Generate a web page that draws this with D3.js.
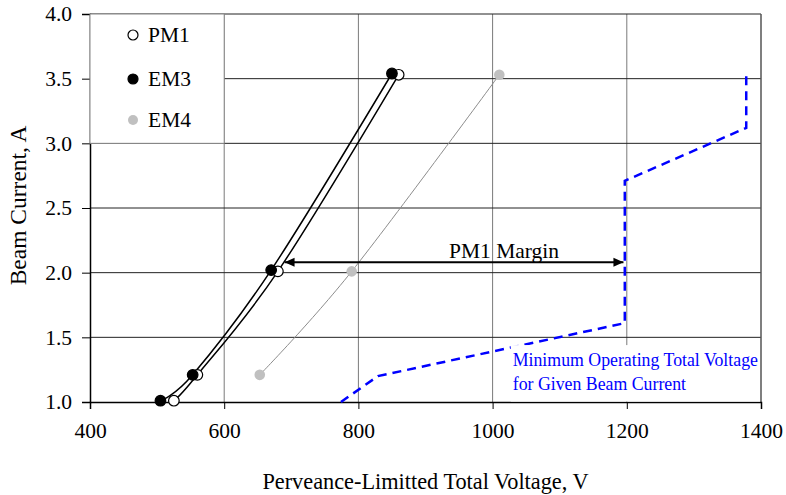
<!DOCTYPE html>
<html>
<head>
<meta charset="utf-8">
<script src="https://cdn.jsdelivr.net/npm/d3@7"></script>
<style>
  body { margin: 0; background: #fff; }
  svg text { font-family: 'Liberation Serif', 'Times New Roman', serif; }
</style>
</head>
<body>
<div id="chart"></div>
<script>
// Data
const seriesNames = ['PM1', 'EM3', 'EM4']
const pm1Voltage = [525, 560, 680, 860]
const pm1Current = [1.01, 1.21, 2.01, 3.53]
const em3Voltage = [505, 553, 670, 850]
const em3Current = [1.01, 1.21, 2.02, 3.54]
const em4Voltage = [653, 790, 1010]
const em4Current = [1.21, 2.01, 3.53]

// minimum operating total voltage vs beam current
const minVoltage = [774, 829, 1197, 1197, 1378, 1378]
const minCurrent = [1.0, 1.2, 1.61, 2.71, 3.12, 3.54]

// margin arrow (PM1 at 2 A up to the minimum voltage)
const marginFrom = 690
const marginTo = 1195
const marginCurrent = 2.08

const xTicks = [400, 600, 800, 1000, 1200, 1400]
const yTicks = [1.0, 1.5, 2.0, 2.5, 3.0, 3.5, 4.0]

const zip = (xs, ys) => xs.map((v, i) => ({ v, i: ys[i] }))

function draw() {
  let dimensions = {
    width: 786,
    height: 495,
    margins: { top: 14, right: 25, bottom: 93, left: 90 }
  }
  dimensions.ctrWidth = dimensions.width - dimensions.margins.left - dimensions.margins.right
  dimensions.ctrHeight = dimensions.height - dimensions.margins.top - dimensions.margins.bottom

  const svg = d3.select('#chart')
    .append('svg')
    .attr('width', dimensions.width)
    .attr('height', dimensions.height)

  const ctr = svg.append('g')
    .attr('transform', `translate(${dimensions.margins.left},${dimensions.margins.top})`)

  // Scales
  const xScale = d3.scaleLinear()
    .domain([400, 1400])
    .range([0, dimensions.ctrWidth])

  const yScale = d3.scaleLinear()
    .domain([1, 4])
    .range([dimensions.ctrHeight, 0])

  // Grid
  ctr.selectAll('.vgrid')
    .data(xTicks.slice(1, -1))
    .join('line')
    .attr('x1', d => xScale(d)).attr('x2', d => xScale(d))
    .attr('y1', 0).attr('y2', dimensions.ctrHeight)
    .attr('stroke', '#7a7a7a')
    .attr('stroke-width', 1)

  ctr.selectAll('.hgrid')
    .data(yTicks.slice(1))
    .join('line')
    .attr('x1', 0).attr('x2', dimensions.ctrWidth)
    .attr('y1', d => yScale(d)).attr('y2', d => yScale(d))
    .attr('stroke', '#222')
    .attr('stroke-width', 1)

  // right border
  ctr.append('line')
    .attr('x1', dimensions.ctrWidth).attr('x2', dimensions.ctrWidth)
    .attr('y1', 0).attr('y2', dimensions.ctrHeight)
    .attr('stroke', '#555')
    .attr('stroke-width', 1.5)

  // Axes
  const xAxis = d3.axisBottom(xScale)
    .tickValues(xTicks)
    .tickSize(7)
    .tickPadding(14)
    .tickFormat(d3.format('d'))

  const xAxisGroup = ctr.append('g')
    .attr('transform', `translate(0,${dimensions.ctrHeight})`)
    .call(xAxis)

  const yAxis = d3.axisLeft(yScale)
    .tickValues(yTicks)
    .tickSize(8)
    .tickPadding(10)
    .tickFormat(d3.format('.1f'))

  const yAxisGroup = ctr.append('g').call(yAxis)

  ;[xAxisGroup, yAxisGroup].forEach(g => {
    g.select('.domain').attr('stroke', '#000').attr('stroke-width', 1.5)
    g.selectAll('.tick line').attr('stroke', '#000').attr('stroke-width', 1)
    g.selectAll('.tick text')
      .attr('fill', '#000')
      .style('font-size', '21.5px')
      .style('font-family', "'Liberation Serif', 'Times New Roman', serif")
  })

  // Legend box
  const legend = ctr.append('g')
  legend.append('rect')
    .attr('x', xScale(400))
    .attr('y', yScale(4))
    .attr('width', xScale(600) - xScale(400))
    .attr('height', yScale(3) - yScale(4))
    .attr('fill', '#fff')
    .attr('stroke', '#888')
    .attr('stroke-width', 1)

  // Lines
  const lineGenerator = d3.line()
    .x(d => xScale(d.v))
    .y(d => yScale(d.i))
    .curve(d3.curveCardinal.tension(0))

  const series = [
    { name: 'EM4', data: zip(em4Voltage, em4Current), stroke: '#8c8c8c', width: 1, fill: '#c0c0c0', ring: 'none' },
    { name: 'PM1', data: zip(pm1Voltage, pm1Current), stroke: '#000', width: 1.5, fill: '#fff', ring: '#000' },
    { name: 'EM3', data: zip(em3Voltage, em3Current), stroke: '#000', width: 1.5, fill: '#000', ring: '#000' }
  ]

  series.forEach(s => {
    ctr.append('path')
      .datum(s.data)
      .attr('d', lineGenerator)
      .attr('fill', 'none')
      .attr('stroke', s.stroke)
      .attr('stroke-width', s.width)
  })

  series.forEach(s => {
    ctr.selectAll(null)
      .data(s.data)
      .join('circle')
      .attr('r', 5.3)
      .attr('cx', d => xScale(d.v))
      .attr('cy', d => yScale(d.i))
      .attr('fill', s.fill)
      .attr('stroke', s.ring)
      .attr('stroke-width', 1.2)
  })

  // Legend entries
  const legendStyle = {
    PM1: { fill: '#fff', ring: '#000' },
    EM3: { fill: '#000', ring: '#000' },
    EM4: { fill: '#c0c0c0', ring: 'none' }
  }
  const legendY = [21, 65, 106]
  seriesNames.forEach((name, i) => {
    legend.append('circle')
      .attr('cx', 43)
      .attr('cy', legendY[i])
      .attr('r', 5)
      .attr('fill', legendStyle[name].fill)
      .attr('stroke', legendStyle[name].ring)
      .attr('stroke-width', 1.2)
    legend.append('text')
      .attr('x', 58)
      .attr('y', legendY[i] + 7)
      .attr('font-size', '21.5px')
      .attr('fill', '#000')
      .text(name)
  })

  // Minimum operating voltage curve
  const minLine = d3.line()
    .x(d => xScale(d.v))
    .y(d => yScale(d.i))

  ctr.append('path')
    .datum(zip(minVoltage, minCurrent))
    .attr('d', minLine)
    .attr('fill', 'none')
    .attr('stroke', '#0000ff')
    .attr('stroke-width', 2.5)
    .attr('stroke-dasharray', '9,6')

  // Label box for the minimum voltage curve
  ctr.append('rect')
    .attr('x', xScale(1030) - 2)
    .attr('y', yScale(1.44))
    .attr('width', dimensions.ctrWidth - xScale(1030) + 1)
    .attr('height', yScale(1) - yScale(1.44) - 0.5)
    .attr('fill', '#fff')

  const blue = ctr.append('text')
    .attr('fill', '#0000ff')
    .attr('font-size', '17.8px')
  blue.append('tspan')
    .attr('x', xScale(1030))
    .attr('y', yScale(1.28))
    .text('Minimum Operating Total Voltage')
  blue.append('tspan')
    .attr('x', xScale(1030))
    .attr('y', yScale(1.095))
    .text('for Given Beam Current')

  // Margin arrow
  svg.append('defs').append('marker')
    .attr('id', 'arrowhead')
    .attr('viewBox', '0 -5 10 10')
    .attr('refX', 10)
    .attr('orient', 'auto-start-reverse')
    .attr('markerUnits', 'userSpaceOnUse')
    .attr('markerWidth', 13)
    .attr('markerHeight', 10)
    .append('path')
    .attr('d', 'M0,-4.5L10,0L0,4.5Z')
    .attr('fill', '#000')

  ctr.append('line')
    .attr('x1', xScale(marginFrom))
    .attr('x2', xScale(marginTo))
    .attr('y1', yScale(marginCurrent))
    .attr('y2', yScale(marginCurrent))
    .attr('stroke', '#000')
    .attr('stroke-width', 2)
    .attr('marker-start', 'url(#arrowhead)')
    .attr('marker-end', 'url(#arrowhead)')

  ctr.append('text')
    .attr('x', xScale(1017))
    .attr('y', yScale(2.115))
    .attr('text-anchor', 'middle')
    .attr('font-size', '21.5px')
    .attr('fill', '#000')
    .text('PM1 Margin')

  // Axis titles
  svg.append('text')
    .attr('x', dimensions.margins.left + xScale(900))
    .attr('y', 489)
    .attr('text-anchor', 'middle')
    .attr('font-size', '22.3px')
    .attr('fill', '#000')
    .text('Perveance-Limitted Total Voltage, V')

  svg.append('text')
    .attr('transform', `translate(26,${dimensions.margins.top + yScale(2.52)}) rotate(-90)`)
    .attr('text-anchor', 'middle')
    .attr('font-size', '23.5px')
    .attr('fill', '#000')
    .text('Beam Current, A')
}

draw()
</script>
</body>
</html>
